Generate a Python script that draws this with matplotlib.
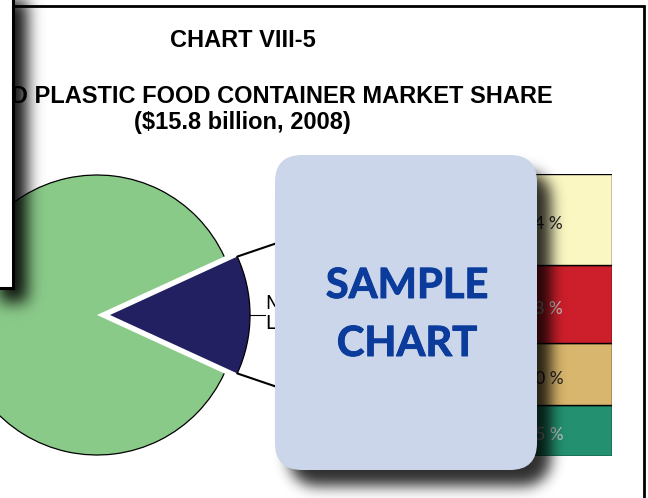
import numpy as np
import matplotlib
matplotlib.use("Agg")
import matplotlib.pyplot as plt
import matplotlib.patheffects as pe
from matplotlib.patches import Arc, Rectangle, FancyBboxPatch, ConnectionPatch

# ---- data ----
pie_labels = ["Leading suppliers", "All others"]
pie_values = [13.7, 86.3]
pie_colors = ["#232062", "#8aca89"]
pie_explode = [0.093, 0.0]
pie_text = "Major\nLeaders"

bar_labels = ["4.4 %", "3.8 %", "3.0 %", "2.5 %"]          # top to bottom
bar_values = [4.4, 3.8, 3.0, 2.5]
bar_colors = ["#fbf7c3", "#cd1f2b", "#d9b66d", "#239170"]
bar_text_colors = ["#222222", "#c4c4c4", "#222222", "#c4c4c4"]

title1 = "CHART VIII-5"
title2 = "RIGID PLASTIC FOOD CONTAINER MARKET SHARE"
title3 = "($15.8 billion, 2008)"

W, H = 648, 498
fig = plt.figure(figsize=(W / 100, H / 100), dpi=100)
fig.patch.set_facecolor("white")


def px_axes(x, y, w, h, z):
    # axes placed in pixel coords measured from top-left
    return fig.add_axes([x / W, (H - y - h) / H, w / W, h / H], zorder=z)


# background: frame + titles
bg = px_axes(0, 0, W, H, 0)
bg.set_xlim(0, W)
bg.set_ylim(H, 0)
bg.axis("off")
bg.add_patch(Rectangle((-20, 6), 664, 520, fill=False, lw=2.0, ec="black", clip_on=False))
tf = dict(family="Liberation Sans", weight="bold", fontsize=17, color="black", ha="center")
bg.text(243, 47, title1, va="baseline", **tf)
bg.text(257, 103, title2, va="baseline", **tf)
bg.text(242, 129, title3, va="baseline", **tf)

# pie
R = 140
ax = px_axes(97 - 1.25 * R, 315 - 1.25 * R, 2.5 * R, 2.5 * R, 1)
half = pie_values[0] / sum(pie_values) * 360 / 2
wedges, _ = ax.pie(pie_values, colors=pie_colors, explode=pie_explode,
                   startangle=-half, counterclock=True,
                   wedgeprops=dict(edgecolor="none", linewidth=0))
for w in wedges:
    ax.add_patch(Arc(w.center, 2 * w.r, 2 * w.r, theta1=w.theta1, theta2=w.theta2,
                     color="black", lw=0.9))
ax.set_xlim(-1.25, 1.25)
ax.set_ylim(-1.25, 1.25)
ax.axis("off")

nav = wedges[0]
cx, cy = nav.center
ax.plot([cx + nav.r, 1.2], [cy, cy], color="black", lw=0.8, clip_on=False)
ax.text(1.2, -0.12, pie_text, ha="left", va="bottom", multialignment="left",
        fontsize=14, family="Lato", color="black")

# bar of pie
axb = px_axes(480, 174, 132, 282, 1)
vals_bottom_up = bar_values[::-1]
bottoms = np.concatenate([[0], np.cumsum(vals_bottom_up)[:-1]])
axb.bar([0] * 4, vals_bottom_up, bottom=bottoms, width=1,
        color=bar_colors[::-1], edgecolor="black", linewidth=1.0)
for v, b, lab, tc in zip(vals_bottom_up, bottoms, bar_labels[::-1], bar_text_colors[::-1]):
    axb.text(0.13, b + v / 2 - 0.25, lab, ha="right", va="center", fontsize=12.5,
             color=tc, family="Lato")
total = sum(bar_values)
axb.set_xlim(-0.5, 0.5)
axb.set_ylim(0, total)
axb.axis("off")

t1, t2 = np.radians(nav.theta1), np.radians(nav.theta2)
top_corner = (cx + nav.r * np.cos(t2), cy + nav.r * np.sin(t2))
bot_corner = (cx + nav.r * np.cos(t1), cy + nav.r * np.sin(t1))
for corner, yb in [(top_corner, total), (bot_corner, 0)]:
    con = ConnectionPatch(xyA=(-0.5, yb), coordsA=axb.transData,
                          xyB=corner, coordsB=ax.transData,
                          color="black", lw=1.5)
    fig.add_artist(con)

# foreground: covering box, sample badge and shadows
fg = px_axes(0, 0, W, H, 5)
fg.patch.set_alpha(0)

yy, xx = np.mgrid[0:H, 0:W] + 0.5


def rrect_mask(x0, y0, x1, y1, r):
    dx = np.maximum(np.maximum(x0 + r - xx, xx - (x1 - r)), 0)
    dy = np.maximum(np.maximum(y0 + r - yy, yy - (y1 - r)), 0)
    return ((dx ** 2 + dy ** 2) <= r ** 2).astype(float)


def blur(a, s):
    n = int(3 * s)
    k = np.exp(-0.5 * (np.arange(-n, n + 1) / s) ** 2)
    k /= k.sum()
    a = np.apply_along_axis(lambda v: np.convolve(v, k, mode="same"), 0, a)
    a = np.apply_along_axis(lambda v: np.convolve(v, k, mode="same"), 1, a)
    return a


sh1 = blur(rrect_mask(-60, -60, 13 + 14, 288 + 14, 0), 8) * 0.95
sh2 = blur(rrect_mask(275 + 14, 155 + 16, 537 + 14, 470 + 16, 27), 7) * 0.82
alpha = np.maximum(sh1, sh2)
rgba = np.zeros((H, W, 4))
rgba[..., 3] = alpha
fg.imshow(rgba, extent=(0, W, H, 0), aspect="auto", interpolation="bilinear", zorder=1)

fg.add_patch(Rectangle((-40, -40), 53, 328, fc="white", ec="black", lw=2.2, zorder=2,
                       clip_on=False))
fg.add_patch(FancyBboxPatch((275 + 27, 155 + 27), 262 - 54, 315 - 54,
                            boxstyle="round,pad=27,rounding_size=27",
                            fc="#cbd6ea", ec="none", zorder=3))
badge = "#0b3c9c"
sf = dict(family="Lato", weight="bold", fontsize=30,
          color=badge, ha="center", va="baseline", zorder=4,
          path_effects=[pe.withStroke(linewidth=0.7, foreground=badge)])
fg.text(407, 298, "SAMPLE", **sf)
fg.text(407, 356, "CHART", **sf)
fg.set_xlim(0, W)
fg.set_ylim(H, 0)
fg.axis("off")

fig.savefig("out.png", dpi=100)
